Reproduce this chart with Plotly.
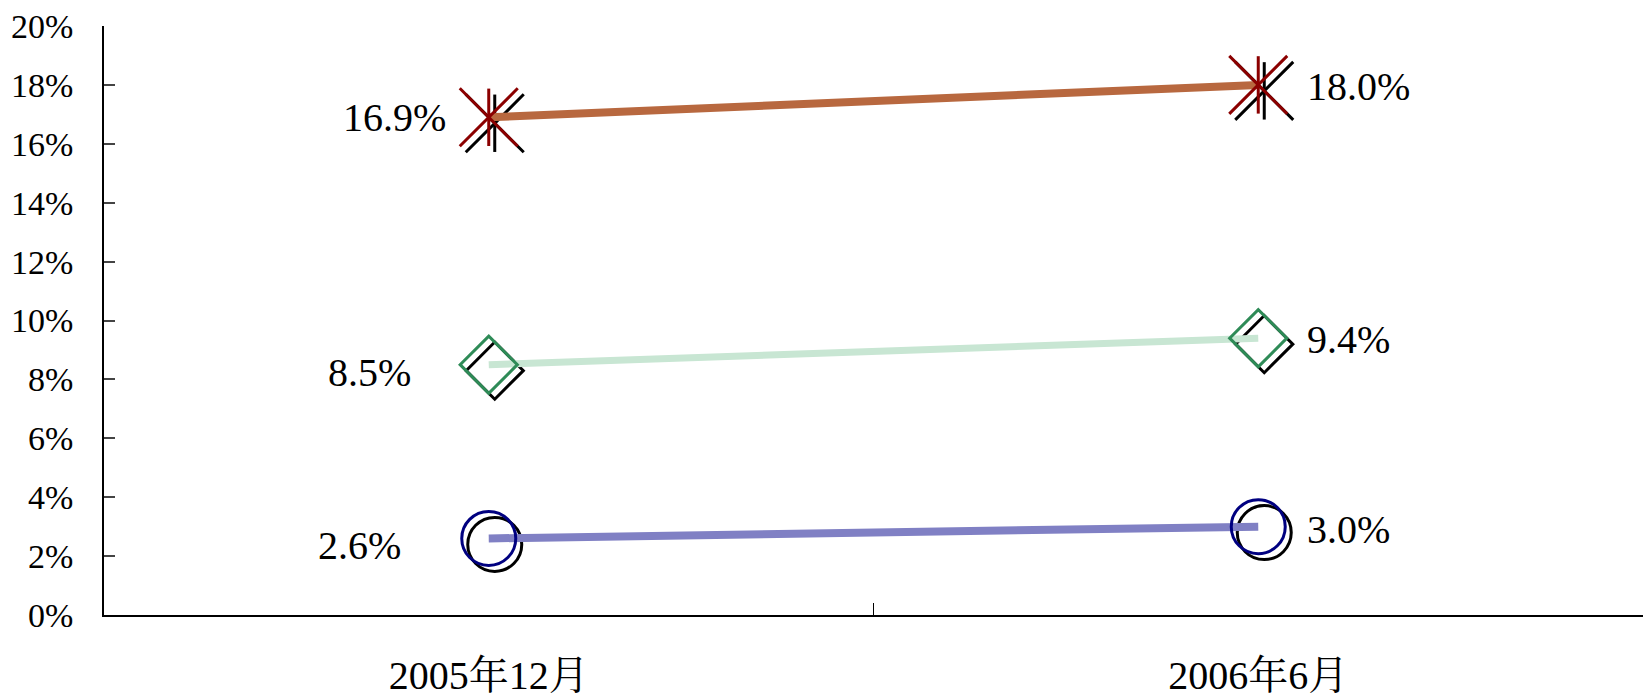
import plotly.graph_objects as go

# Survey periods and the share (%) for each of the three series
periods = ["2005年12月", "2006年6月"]
series_a = [16.9, 18.0]   # top series (star markers)
series_b = [8.5, 9.4]     # middle series (diamond markers)
series_c = [2.6, 3.0]     # bottom series (circle markers)
y_ticks = [0, 2, 4, 6, 8, 10, 12, 14, 16, 18, 20]

W, H = 1643, 698
ML, MR, MT, MB = 104, 0, 26, 80
PW, PH = W - ML - MR, H - MT - MB
SHADOW_PX = 6  # drop-shadow offset of the markers (right and down)

X_RANGE = [-0.5, 1.5]
Y_RANGE = [0, 20]
dx = SHADOW_PX * (X_RANGE[1] - X_RANGE[0]) / PW
dy = SHADOW_PX * (Y_RANGE[1] - Y_RANGE[0]) / PH

SERIF = "Liberation Serif, Noto Serif CJK SC, Noto Sans CJK SC, serif"

fig = go.Figure()

styles = [
    # values, line colour, line width, marker list [(symbol, size, colour)], label shifts
    (series_a, "#B8683F", 8, [("x-thin-open", 58, "#8B0000"), ("line-ns-open", 41, "#8B0000")],
     [(-41, 0), (47, -2)]),
    (series_b, "#C8E6D3", 7, [("diamond-open", 44, "#2E8B57")],
     [(-76, -8), (47, -1)]),
    (series_c, "#8080C4", 8, [("circle-open", 54, "#000080")],
     [(-86, -7), (47, -3)]),
]

# black drop shadows first, on an overlay axis offset by a few pixels
for vals, lcol, lw, markers, shifts in styles:
    for sym, size, _ in markers:
        fig.add_trace(go.Scatter(
            x=periods, y=vals, mode="markers", xaxis="x2", yaxis="y2",
            marker=dict(symbol=sym, size=size, color="black",
                        line=dict(color="black", width=3)),
            hoverinfo="skip", showlegend=False))

# lines and coloured markers on a top overlay axis with the true ranges
for vals, lcol, lw, markers, shifts in styles:
    fig.add_trace(go.Scatter(
        x=periods, y=vals, mode="lines", xaxis="x3", yaxis="y3",
        line=dict(color=lcol, width=lw), showlegend=False))
    for sym, size, mcol in markers:
        fig.add_trace(go.Scatter(
            x=periods, y=vals, mode="markers", xaxis="x3", yaxis="y3",
            marker=dict(symbol=sym, size=size, color=mcol,
                        line=dict(color=mcol, width=3)),
            showlegend=False))
    for i, (p, v) in enumerate(zip(periods, vals)):
        xs, ys = shifts[i]
        fig.add_annotation(
            x=p, y=v, xref="x", yref="y", text=f"{v:.1f}%", showarrow=False,
            xanchor="right" if i == 0 else "left", yanchor="middle",
            xshift=xs, yshift=ys,
            font=dict(family=SERIF, size=40, color="black"))

fig.update_layout(
    width=W, height=H,
    margin=dict(l=ML, r=MR, t=MT, b=MB),
    paper_bgcolor="white", plot_bgcolor="white",
    xaxis=dict(
        type="category", categoryarray=periods, range=X_RANGE,
        showline=True, linecolor="black", linewidth=1.5,
        showgrid=False, zeroline=False,
        ticks="inside", tickson="boundaries", ticklen=12, tickwidth=1.2,
        tickcolor="black", ticklabelstandoff=24,
        tickfont=dict(family=SERIF, size=40, color="black")),
    yaxis=dict(
        range=Y_RANGE, tickvals=y_ticks, ticktext=[f"{t}%" for t in y_ticks],
        showline=True, linecolor="black", linewidth=1.5,
        showgrid=False, zeroline=False,
        ticks="inside", ticklen=11, tickwidth=1.5, tickcolor="#444",
        ticklabelstandoff=22,
        tickfont=dict(family=SERIF, size=34, color="black")),
    xaxis2=dict(
        type="category", categoryarray=periods, overlaying="x",
        range=[X_RANGE[0] - dx, X_RANGE[1] - dx], visible=False),
    yaxis2=dict(
        overlaying="y", range=[Y_RANGE[0] + dy, Y_RANGE[1] + dy], visible=False),
    xaxis3=dict(
        type="category", categoryarray=periods, overlaying="x",
        range=X_RANGE, visible=False),
    yaxis3=dict(overlaying="y", range=Y_RANGE, visible=False),
)

fig.write_html("out.html")
